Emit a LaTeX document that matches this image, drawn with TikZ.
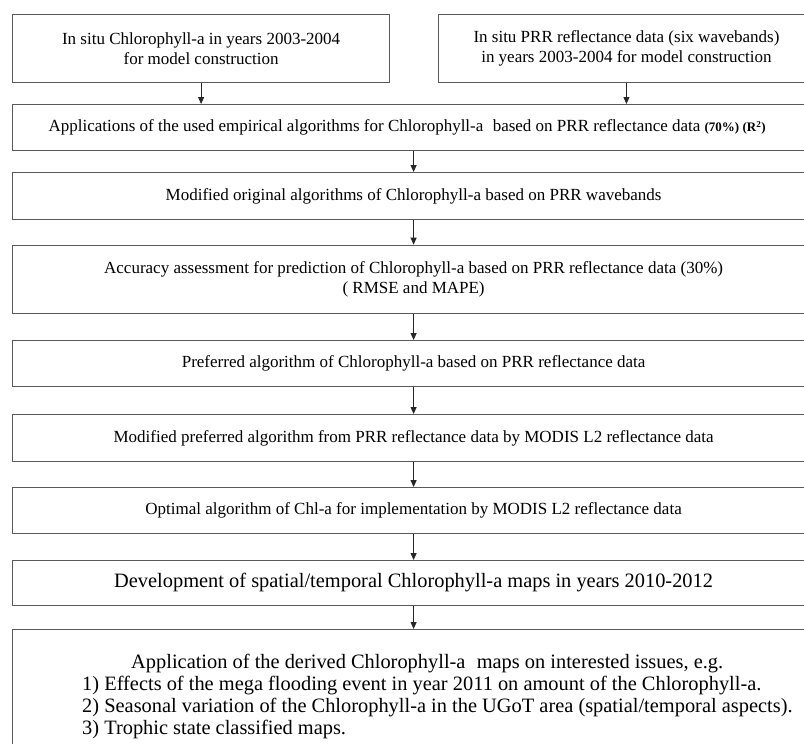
\documentclass[tikz,border=0pt]{standalone}
\usepackage{fontspec}
\setmainfont{Liberation Serif}
\usetikzlibrary{arrows.meta}
\definecolor{edgegray}{HTML}{5A5A5A}
\newcommand{\normtext}{\fontsize{17}{20}\selectfont}
\newcommand{\bigtext}{\fontsize{20.4}{22.2}\selectfont}
\tikzset{
  box/.style={draw=edgegray, line width=1.2pt, fill=white, inner sep=0pt, align=center, anchor=north west, font=\normtext},
  widebox/.style={box, minimum width=802pt},
  arr/.style={draw=black!85, line width=0.9pt, -{Triangle[length=7pt,width=6pt]}}
}
\begin{document}
\begin{tikzpicture}[x=1pt,y=-1pt]
\useasboundingbox (0,0) rectangle (804,744);
\clip (0,0) rectangle (804,744);
\fill[white] (0,0) rectangle (804,744);
\node[box, minimum width=377pt, minimum height=68pt] (b1) at (12,14)
  {In situ Chlorophyll-a in years 2003-2004\\for model construction};
\node[box, minimum width=376.3pt, minimum height=68pt] (b2) at (437.7,14)
  {In situ PRR reflectance data (six wavebands)\\in years 2003-2004 for model construction};
\node[widebox, minimum height=46pt] (b3) at (12,104)
  {Applications of the used empirical algorithms for Chlorophyll-a\hspace{0.3em} based on PRR reflectance data {\bfseries\fontsize{13}{15}\selectfont (70\%) (R\textsuperscript{2})}\hspace*{13pt}};
\node[widebox, minimum height=46.5pt] (b4) at (12,172)
  {Modified original algorithms of Chlorophyll-a based on PRR wavebands};
\node[widebox, minimum height=68pt] (b5) at (12,244.7)
  {Accuracy assessment for prediction of Chlorophyll-a based on PRR reflectance data (30\%)\\( RMSE and MAPE)};
\node[widebox, minimum height=45.5pt] (b6) at (12,340)
  {Preferred algorithm of Chlorophyll-a based on PRR reflectance data};
\node[widebox, minimum height=46.5pt] (b7) at (12,414)
  {Modified preferred algorithm from PRR reflectance data by MODIS L2 reflectance data};
\node[widebox, minimum height=46pt] (b8) at (12,487)
  {Optimal algorithm of Chl-a for implementation by MODIS L2 reflectance data};
\node[widebox, minimum height=44.5pt, font=\bigtext] (b9) at (12,560)
  {Development of spatial/temporal Chlorophyll-a maps in years 2010-2012};
\node[widebox, minimum height=150pt] (b10) at (12,629) {};
\node[inner sep=0pt, anchor=north west, align=left, font=\bigtext] (t10) at (82,653.5)
  {\makebox[690pt][c]{Application of the derived Chlorophyll-a\hspace{0.3em} maps on interested issues, e.g.}\\
   1) Effects of the mega flooding event in year 2011 on amount of the Chlorophyll-a.\\
   2) Seasonal variation of the Chlorophyll-a in the UGoT area (spatial/temporal aspects).\\
   3) Trophic state classified maps.};
\draw[arr] (b1.south) -- (b1.south |- b3.north);
\draw[arr] (b2.south) -- (b2.south |- b3.north);
\draw[arr] (b3.south) -- (b4.north);
\draw[arr] (b4.south) -- (b5.north);
\draw[arr] (b5.south) -- (b6.north);
\draw[arr] (b6.south) -- (b7.north);
\draw[arr] (b7.south) -- (b8.north);
\draw[arr] (b8.south) -- (b9.north);
\draw[arr] (b9.south) -- (b10.north);
\end{tikzpicture}
\end{document}
